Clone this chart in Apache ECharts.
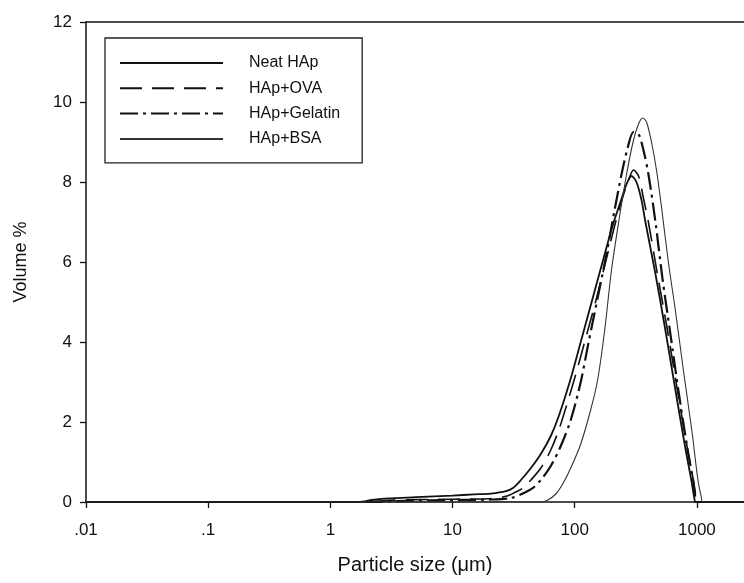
<!DOCTYPE html>
<html>
<head>
<meta charset="utf-8">
<script src="https://cdn.jsdelivr.net/npm/echarts@6/dist/echarts.min.js"></script>
<style>
html,body{margin:0;padding:0;background:#fff;}
#c{width:744px;height:583px;}
</style>
</head>
<body>
<div id="c"></div>
<script>
// Particle size (µm) and Volume % for each sample
const neatX = [0.01, 0.1, 1, 1.7, 2.2, 3, 5, 10, 15, 20.6, 27.4, 31.2, 36.3, 43.8, 52.8, 63.7, 74.1, 91, 112, 137.6, 169, 204, 237, 266, 292, 320, 352, 379, 458, 552, 667, 804, 900, 950, 970, 1010, 1200, 2430];
const neatY = [0, 0, 0, 0, 0.05, 0.09, 0.12, 0.16, 0.19, 0.21, 0.27, 0.35, 0.55, 0.85, 1.2, 1.65, 2.15, 3.0, 4.0, 5.0, 6.0, 6.9, 7.5, 7.95, 8.15, 8.0, 7.55, 7.0, 5.7, 4.3, 2.8, 1.35, 0.55, 0.12, 0, 0, 0, 0];

const ovaX = [0.01, 0.1, 1, 2, 3, 5, 10, 20, 28, 33, 37.7, 43.8, 52.8, 63.7, 74.1, 84.5, 100, 120.6, 148, 179, 212, 246, 276, 303, 333, 365, 401, 475, 574, 692, 835, 935, 985, 1007, 1050, 1200, 2430];
const ovaY = [0, 0, 0, 0, 0.04, 0.06, 0.07, 0.08, 0.15, 0.25, 0.35, 0.55, 0.85, 1.3, 1.8, 2.35, 3.1, 4.0, 5.0, 6.0, 6.9, 7.6, 8.05, 8.3, 8.15, 7.6, 7.0, 5.7, 4.3, 2.8, 1.35, 0.55, 0.12, 0, 0, 0, 0];

const gelX = [0.01, 0.1, 1, 2, 4, 10, 20, 30, 39.8, 45.4, 52.8, 63.7, 76.9, 92.8, 112, 130, 154, 182, 212, 242, 271, 303, 333, 365, 401, 458, 522, 607, 705, 835, 930, 970, 989, 1030, 1200, 2430];
const gelY = [0, 0, 0, 0, 0.03, 0.05, 0.06, 0.1, 0.25, 0.35, 0.55, 0.9, 1.4, 2.05, 3.0, 4.0, 5.1, 6.2, 7.3, 8.2, 8.85, 9.25, 9.2, 8.8, 8.2, 7.0, 5.6, 4.2, 2.8, 1.35, 0.55, 0.12, 0, 0, 0, 0];

const bsaX = [0.01, 0.1, 1, 10, 40, 52.8, 60.2, 70, 79.8, 92.8, 112, 135, 154, 176, 200, 229, 266, 303, 333, 359, 387, 425, 467, 512, 584, 666, 775, 917, 1020, 1090, 1107, 1160, 1400, 2430];
const bsaY = [0, 0, 0, 0, 0, 0, 0.05, 0.2, 0.45, 0.85, 1.45, 2.3, 3.05, 4.3, 5.8, 7.0, 8.2, 9.05, 9.45, 9.6, 9.5, 9.0, 8.3, 7.4, 6.0, 4.8, 3.3, 1.7, 0.55, 0.1, 0, 0, 0, 0];

const seriesNames = ['Neat HAp', 'HAp+OVA', 'HAp+Gelatin', 'HAp+BSA'];
const xTickValues = [0.01, 0.1, 1, 10, 100, 1000];
const xTickLabels = ['.01', '.1', '1', '10', '100', '1000'];
const yTicks = [0, 2, 4, 6, 8, 10, 12];

function pairs(xs, ys) { return xs.map((x, i) => [x, ys[i]]); }

const font = 'Liberation Sans, Arial, sans-serif';
const chart = echarts.init(document.getElementById('c'), null, { renderer: 'canvas' });

function labelFor(v) {
  for (let i = 0; i < xTickValues.length; i++) {
    if (Math.abs(Math.log10(v) - Math.log10(xTickValues[i])) < 1e-6) return xTickLabels[i];
  }
  return '';
}

const common = { type: 'line', symbol: 'none', showSymbol: false, smooth: 0.3 };

const option = {
  animation: false,
  backgroundColor: '#fff',
  grid: { left: 86, top: 22, right: 0, bottom: 81, containLabel: false },
  legend: {
    orient: 'vertical',
    left: 105, top: 38,
    padding: [17, 22, 16, 14],
    itemWidth: 103, itemHeight: 14, itemGap: 9.3,
    borderColor: '#222', borderWidth: 1.3, borderRadius: 0,
    itemStyle: { opacity: 0, borderWidth: 0 },
    textStyle: { fontFamily: font, fontSize: 16, color: '#111', padding: [0, 0, 0, 21] },
    data: seriesNames
  },
  xAxis: [{
    type: 'log', logBase: 10, min: 0.01, max: 2430,
    name: 'Particle size (\u03bcm)', nameLocation: 'middle', nameGap: 53,
    nameTextStyle: { fontFamily: font, fontSize: 20, color: '#111' },
    axisLine: { show: true, onZero: false, lineStyle: { color: '#111', width: 1.5 } },
    axisTick: { show: true, inside: false, length: 6, lineStyle: { color: '#111', width: 1.3 } },
    minorTick: { show: false },
    splitLine: { show: false },
    axisLabel: { fontFamily: font, fontSize: 17, color: '#111', margin: 20, showMaxLabel: false, formatter: labelFor }
  }, {
    type: 'log', logBase: 10, min: 0.01, max: 2430, position: 'top',
    axisLine: { show: true, onZero: false, lineStyle: { color: '#111', width: 1.5 } },
    axisTick: { show: false }, axisLabel: { show: false }, splitLine: { show: false }
  }],
  yAxis: {
    type: 'value', min: 0, max: 12, interval: 2,
    name: 'Volume %', nameLocation: 'middle', nameGap: 56, nameRotate: 90,
    nameTextStyle: { fontFamily: font, fontSize: 18, color: '#111' },
    axisLine: { show: true, onZero: false, lineStyle: { color: '#111', width: 1.5 } },
    axisTick: { show: true, inside: false, length: 6, lineStyle: { color: '#111', width: 1.3 } },
    splitLine: { show: false },
    axisLabel: { fontFamily: font, fontSize: 17, color: '#111', margin: 14,
      formatter: v => (yTicks.indexOf(v) >= 0 ? String(v) : '') }
  },
  series: [
    Object.assign({}, common, { name: seriesNames[0], data: pairs(neatX, neatY),
      lineStyle: { color: '#111', width: 1.8, type: 'solid' }, itemStyle: { color: '#111' } }),
    Object.assign({}, common, { name: seriesNames[1], data: pairs(ovaX, ovaY),
      lineStyle: { color: '#111', width: 1.6, type: [22, 10] }, itemStyle: { color: '#111' } }),
    Object.assign({}, common, { name: seriesNames[2], data: pairs(gelX, gelY),
      lineStyle: { color: '#111', width: 2.2, type: [18, 5, 3, 5] }, itemStyle: { color: '#111' } }),
    Object.assign({}, common, { name: seriesNames[3], data: pairs(bsaX, bsaY),
      lineStyle: { color: '#333', width: 1.1, type: 'solid' }, itemStyle: { color: '#333' } })
  ]
};
chart.setOption(option);
</script>
</body>
</html>
